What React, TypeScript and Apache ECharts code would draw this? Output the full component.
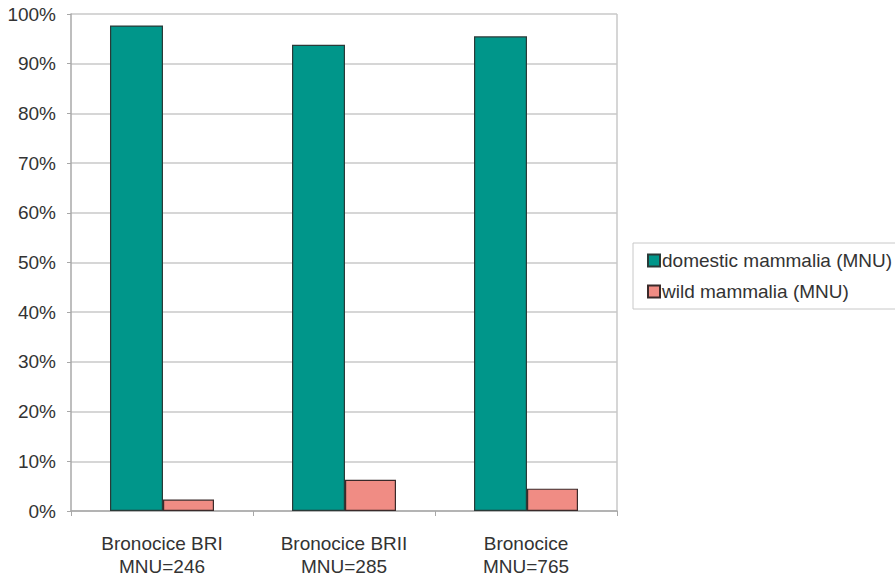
import React, { useEffect, useRef } from "react";
import * as echarts from "echarts";

const categories = ["Bronocice BRI\nMNU=246", "Bronocice BRII\nMNU=285", "Bronocice\nMNU=765"];
const domesticValues = [97.7, 93.8, 95.5];
const wildValues = [2.3, 6.3, 4.5];
const seriesNames = ["domestic mammalia (MNU)", "wild mammalia (MNU)"];

export default function App() {
  const ref = useRef<HTMLDivElement>(null);

  useEffect(() => {
    if (!ref.current) return;
    const chart = echarts.init(ref.current, undefined, { renderer: "svg" });
    const font = "'Liberation Sans', Arial, sans-serif";
    chart.setOption({
      animation: false,
      backgroundColor: "#ffffff",
      textStyle: { fontFamily: font },
      grid: { left: 71, right: 278, top: 14, bottom: 66 },
      legend: {
        orient: "vertical",
        left: 633,
        top: 243,
        data: seriesNames,
        icon: "rect",
        itemWidth: 12,
        itemHeight: 12,
        itemGap: 12,
        padding: [8, 12, 8, 14],
        borderColor: "#c8c8c8",
        borderWidth: 1,
        textStyle: { fontSize: 19, color: "#333", fontFamily: font, padding: [0, 0, 0, -3] },
      },
      xAxis: {
        type: "category",
        data: categories,
        axisLine: { lineStyle: { color: "#a8a8a8", width: 1.5 } },
        axisTick: { show: true, length: 5, lineStyle: { color: "#a8a8a8" } },
        axisLabel: { fontSize: 19, color: "#333", lineHeight: 23, margin: 21, fontFamily: font },
      },
      yAxis: {
        type: "value",
        min: 0,
        max: 100,
        interval: 10,
        axisLine: { show: true, lineStyle: { color: "#a8a8a8", width: 1.5 } },
        axisTick: { show: true, length: 4, lineStyle: { color: "#a8a8a8" } },
        splitLine: { lineStyle: { color: "#c8c8c8", width: 1.5 } },
        axisLabel: { fontSize: 19, color: "#333", margin: 15, formatter: "{value}%", fontFamily: font },
      },
      series: [
        {
          name: seriesNames[0],
          type: "bar",
          data: domesticValues,
          barWidth: 53,
          barGap: "0%",
          itemStyle: { color: "#00968a", borderColor: "#2a3a38", borderWidth: 1.2 },
        },
        {
          name: seriesNames[1],
          type: "bar",
          data: wildValues,
          barWidth: 51,
          barGap: "0%",
          itemStyle: { color: "#f08c84", borderColor: "#3a2a2a", borderWidth: 1.2 },
        },
      ],
      graphic: [
        {
          type: "line",
          shape: { x1: 617, y1: 14, x2: 617, y2: 512 },
          style: { stroke: "#c8c8c8", lineWidth: 1.5 },
        },
      ],
    });
    return () => chart.dispose();
  }, []);

  return (
    <div
      ref={ref}
      style={{ position: "fixed", left: 0, top: 0, width: 895, height: 578, background: "#fff" }}
    />
  );
}
